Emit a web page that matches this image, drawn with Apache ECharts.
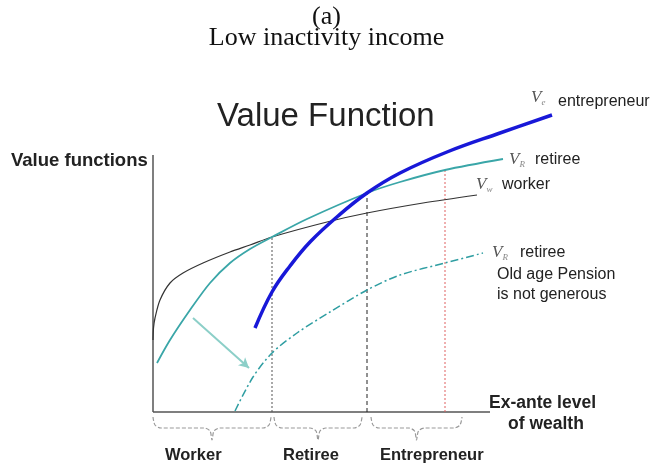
<!DOCTYPE html>
<html><head><meta charset="utf-8">
<script src="https://cdn.jsdelivr.net/npm/echarts@6/dist/echarts.min.js"></script>
<style>html,body{margin:0;padding:0;background:#fff}#c{width:653px;height:464px}</style>
</head><body><div id="c"></div>
<script>
// Conceptual curves: [ex-ante wealth, value]
var worker = [[0,72],[0.5,84],[2,94],[7,112],[17,129],[30,139],[50,149],[77,160],[97,167],[119,175],[174,190],[214,199],[270,209],[324,217]];
var retiree = [[4,49],[17,72],[37,102],[57,129],[77,149],[97,163],[119,175],[154,193],[214,219],[247,230],[292,242],[350,253]];
var entrepreneur = [[102,84],[119,120],[137,146],[157,170],[185,196],[214,219],[247,239],[294,260],[347,279],[399,297]];
var retireeLow = [[82,1],[100,35],[119,59],[144,79],[177,100],[214,122],[247,137],[292,149],[330,159]];
// thresholds: [x, top value]
var thresholds = [[119,175],[214,219],[292,242]];
var arrowFrom = [40,94], arrowTo = [96,44];
var axisX = [0,337], axisY = [0,257];
var groups = ['Worker','Retiree','Entrepreneur'];
var groupRanges = [[0,118],[121,209],[218,309]];

function brace(r){
  var a=r[0], b=r[1], m=(a+b)/2;
  return [[a,-5],[a+2,-13],[a+8,-16],[m-8,-16],[m-2,-19],[m,-28],[m+2,-19],[m+8,-16],[b-8,-16],[b-2,-13],[b,-5]];
}
var chart = echarts.init(document.getElementById('c'));
var series = [
  {type:'line', data:[[axisX[0],0],[axisX[1],0]], symbol:'none', lineStyle:{color:'#555',width:1.5}, z:1},
  {type:'line', data:[[0,axisY[0]],[0,axisY[1]]], symbol:'none', lineStyle:{color:'#555',width:1.5}, z:1},
];
var vcol = ['#555','#222','#e06060'];
var vtype = [[2,2],[4,3],[2,2]];
thresholds.forEach(function(t,i){
  series.push({type:'line', data:[[t[0],0],[t[0],t[1]]], symbol:'none', lineStyle:{color:vcol[i],width:1,type:vtype[i]}, z:2});
});
var sm = {smooth:0.3, symbol:'none', z:3};
series.push(Object.assign({type:'line', data:worker, lineStyle:{color:'#333',width:1.2}}, sm));
series.push(Object.assign({type:'line', data:retiree, lineStyle:{color:'#3aa6a8',width:1.8}}, sm));
series.push(Object.assign({type:'line', data:retireeLow, lineStyle:{color:'#2f9ea2',width:1.5,type:[8,3,2,3]}}, sm));
series.push(Object.assign({type:'line', data:entrepreneur, lineStyle:{color:'#1818d8',width:3.5}}, sm, {z:4, smooth:0.4}));
series.push({type:'line', data:[], symbol:'none', markLine:{silent:true, symbol:['none','arrow'], symbolSize:[8,10], label:{show:false},
  lineStyle:{color:'#8ccfc8',width:2,type:'solid'}, data:[[{coord:arrowFrom},{coord:arrowTo}]]}});
groupRanges.forEach(function(r){
  series.push({type:'line', data:brace(r), smooth:0.3, symbol:'none', lineStyle:{color:'#999',width:1.2,type:[4,2]}, z:2});
});

var SANS = '"Liberation Sans"';
function txt(x,cy,s,size,bold){
  return {type:'text', left:x, top:cy-size/2, style:{text:s, font:(bold?'bold ':'')+size+'px '+SANS, fill:'#222'}};
}
function vsym(x,cy,sub){
  return {type:'text', left:x, top:cy-9, style:{text:'{v|V}{s|'+sub+'}', rich:{
    v:{fontFamily:'Liberation Serif',fontStyle:'italic',fontSize:17,fill:'#555'},
    s:{fontFamily:'Liberation Serif',fontStyle:'italic',fontSize:9,fill:'#888',padding:[10,0,0,0]}}}};
}
var graphics = [
  {type:'text', left:'center', top:4, style:{text:'(a)', font:'26px "Liberation Serif"', fill:'#111'}},
  {type:'text', left:'center', top:25, style:{text:'Low inactivity income', font:'26px "Liberation Serif"', fill:'#111'}},
  txt(217,117,'Value Function',33,false),
  txt(11,161,'Value functions',18.5,true),
  txt(489,403,'Ex-ante level',17.5,true),
  txt(508,424,'of wealth',17.5,true),
  vsym(531,98,'e'), txt(558,102,'entrepreneur',16,false),
  vsym(509,160,'R'), txt(535,160,'retiree',16,false),
  vsym(476,185,'w'), txt(502,185,'worker',16,false),
  vsym(492,253,'R'), txt(520,253,'retiree',16,false),
  txt(497,275,'Old age Pension',16,false),
  txt(497,295,'is not generous',16,false)
];
var gx = [165,283,380];
groups.forEach(function(g,i){
  graphics.push(txt(gx[i],455.5,g,16.5,true));
});
chart.setOption({
  animation:false,
  grid:{left:0,right:0,top:0,bottom:0},
  xAxis:{type:'value',min:-153,max:500,show:false},
  yAxis:{type:'value',min:-52,max:412,show:false},
  series:series,
  graphic:graphics
});
</script></body></html>
